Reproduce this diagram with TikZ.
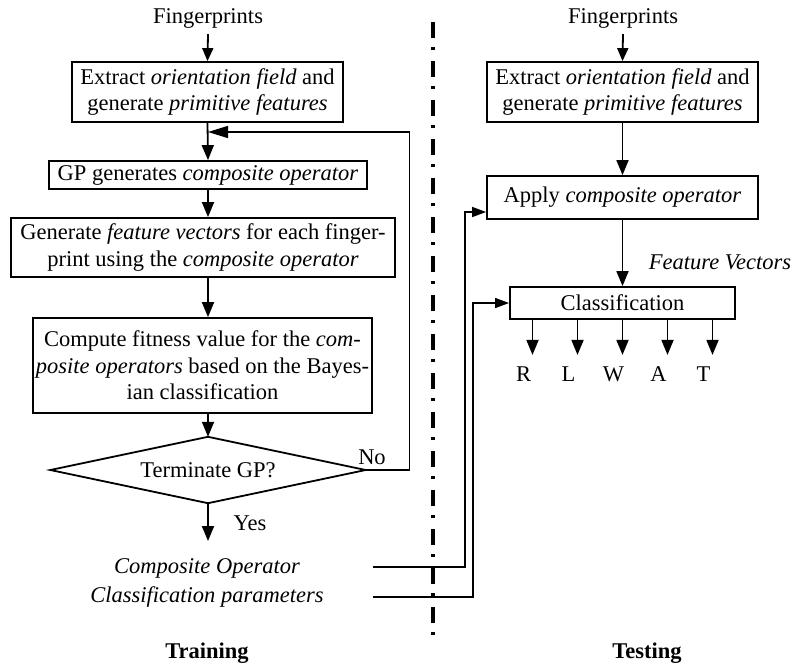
\documentclass[tikz,border=0pt]{standalone}
\usepackage{fontspec}
\setmainfont{Liberation Serif}
\usetikzlibrary{arrows.meta,calc}
\begin{document}
\begin{tikzpicture}[x=1pt,y=-1pt,
  font=\fontsize{22.5}{26.5}\selectfont,
  box/.style={draw,line width=1.8pt,rectangle,inner sep=0pt,align=center},
  arr/.style={line width=1.8pt,-{Triangle[length=15pt,width=12pt]}},
  wire/.style={line width=1.5pt},
  lbl/.style={inner sep=0pt}]
\useasboundingbox (0,0) rectangle (793,667);
% ---------- Training ----------
\node[lbl] (fpL) at (208,18) {Fingerprints};
\node[box,minimum width=271pt,minimum height=60pt] (b1) at (207.5,92)
  {Extract \textit{orientation field} and\\generate \textit{primitive features}};
\node[box,minimum width=318pt,minimum height=28pt] (b2) at (208,175)
  {GP generates \textit{composite operator}};
\node[box,minimum width=384pt,minimum height=59pt] (b3) at (203,247.5)
  {Generate \textit{feature vectors} for each finger-\\print using the \textit{composite operator}};
\node[box,minimum width=339pt,minimum height=95pt] (b4) at (202.5,365.5)
  {Compute fitness value for the \textit{com-}\\\textit{posite operators} based on the Bayes-\\ian classification};
\node[inner sep=0pt,minimum width=315pt,minimum height=66pt] (dia) at (208,470)
  {\raisebox{-4pt}{Terminate GP?}};
\draw[line width=1.8pt,line join=miter] (dia.north) -- (dia.east) -- (dia.south) -- (dia.west) -- cycle;
\node[lbl] (no) at (372,457) {No};
\node[lbl] (yes) at (250,523) {Yes};
\coordinate (yesend) at (208,541);
\node[lbl] (co) at (207,568) {\textit{Composite Operator}};
\node[lbl] (cp) at (207,597) {\textit{Classification parameters}};
\node[lbl] (train) at (207,653) {\textbf{Training}};
\coordinate (fb) at (208,132);

\draw[arr,-{Triangle[length=13pt,width=11pt]}] (fpL.south) ++(0,6) -- (b1.north);
\draw[arr] (b1.south) -- (b2.north);
\draw[arr] (b2.south -| 208,0) -- (b3.north -| 208,0);
\draw[arr] (b3.south -| 208,0) -- (b4.north -| 208,0);
\draw[arr] (b4.south -| 208,0) -- (dia.north);
\draw[arr] (dia.south) -- (yesend);
\draw[line width=1.5pt,-{Triangle[length=20pt,width=12pt]}] (dia.east) -- ++(44,0) |- (fb);

% ---------- separator ----------
\draw[line width=3.5pt,dash pattern=on 16pt off 9pt on 3pt off 11pt] (433,22) -- (433,642);

% ---------- Testing ----------
\node[lbl] (fpR) at (623,18) {Fingerprints};
\node[box,minimum width=271pt,minimum height=60pt] (b5) at (622.5,92)
  {Extract \textit{orientation field} and\\generate \textit{primitive features}};
\node[box,minimum width=271pt,minimum height=43pt] (app) at (622.5,197.5)
  {Apply \textit{composite operator}};
\node[box,minimum width=225pt,minimum height=32pt] (cls) at (622.5,303)
  {Classification};
\node[lbl] (fv) at (720,262) {\textit{Feature Vectors}};
\node[lbl] (tst) at (647,653) {\textbf{Testing}};

\draw[arr,-{Triangle[length=13pt,width=11pt]}] (fpR.south) ++(0,6) -- (b5.north);
\draw[arr] (b5.south) -- (app.north);
\draw[arr] (app.south) -- (cls.north);

\foreach \dx/\t in {-90/R,-45/L,0/W,45/A,90/T}{
  \draw[arr] ([xshift=\dx pt]cls.south) -- ++(0,35);
  \node[lbl] (o\t) at ($(cls.south)+(\dx-9,54)$) {\t};
}

% ---------- links from training to testing ----------
\coordinate (c1) at (373,567);
\coordinate (c2) at (373,597);
\coordinate (in1) at (0,212);
\draw[wire,-{Triangle[length=14pt,width=10pt]}] (c1) -- (465,567) -- (465,212) -- (app.west |- in1);
\draw[wire,-{Triangle[length=14pt,width=10pt]}] (c2) -- (473,597) |- (cls.west);
\end{tikzpicture}
\end{document}
